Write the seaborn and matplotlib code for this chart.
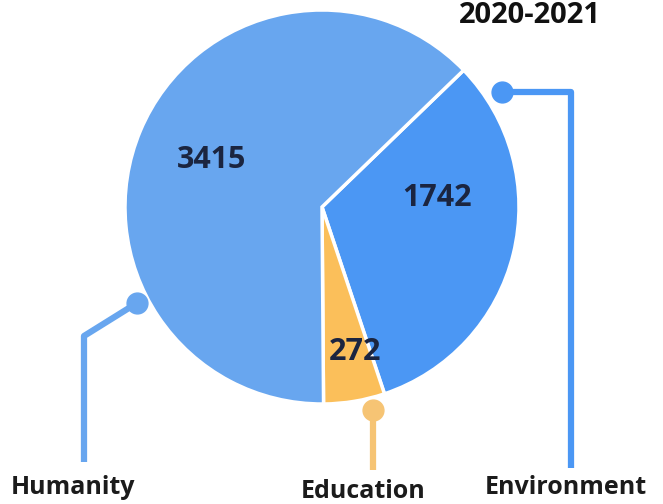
import numpy as np
import matplotlib
matplotlib.use("Agg")
import matplotlib.pyplot as plt
import seaborn as sns

title = "2020-2021"
categories = ["Environment", "Education", "Humanity"]
values = [1742, 272, 3415]
colors = ["#4b97f4", "#fbbf5a", "#68a6ef"]
line_colors = ["#4b97f4", "#f6c474", "#68a6ef"]

sns.set_theme(style="white")
plt.rcParams['font.family'] = ['Open Sans', 'DejaVu Sans']

W, H = 663, 504
fig = plt.figure(figsize=(W / 100, H / 100), dpi=100)
ax = fig.add_axes([0, 0, 1, 1])

cx, cy, R = 322, 297, 197
wedges, texts, autotexts = ax.pie(
    values, colors=colors, startangle=44, counterclock=False,
    center=(cx, cy), radius=R, pctdistance=0.6,
    autopct=lambda p: f"{p * sum(values) / 100:.0f}",
    wedgeprops=dict(edgecolor="white", linewidth=2.5),
    textprops=dict(fontsize=22, fontweight="bold", color="#1b2540"),
    frame=True,
)
ax.set_xlim(0, W)
ax.set_ylim(0, H)
ax.set_aspect("equal")
ax.axis("off")

# label placement tweaks
autotexts[0].set_position((cx + 115, cy + 9))
autotexts[1].set_position((cx + 33, cy - 145))
autotexts[2].set_position((cx - 110, cy + 47))

# leader lines
lw = 4.5
ms = 15
# Environment
ax.plot([502, 571, 571], [412, 412, 36], color=line_colors[0], lw=lw, solid_capstyle="butt")
ax.plot([502], [412], "o", color=line_colors[0], ms=ms)
# Education
ax.plot([373, 373], [94, 34], color=line_colors[1], lw=lw, solid_capstyle="butt")
ax.plot([373], [94], "o", color=line_colors[1], ms=ms)
# Humanity
ax.plot([137, 84, 84], [201, 168, 42], color=line_colors[2], lw=lw, solid_capstyle="butt")
ax.plot([137], [201], "o", color=line_colors[2], ms=ms)

lab_kw = dict(fontsize=18, fontweight="bold", color="#1b1b1b", ha="center", va="center")
ax.text(566, 16, categories[0], **lab_kw)
ax.text(363, 12, categories[1], **lab_kw)
ax.text(73, 16, categories[2], **lab_kw)

ax.text(530, H - 1, title, fontsize=21, fontweight="bold", color="#111111", ha="center", va="top")

fig.savefig("out.png", dpi=100)
